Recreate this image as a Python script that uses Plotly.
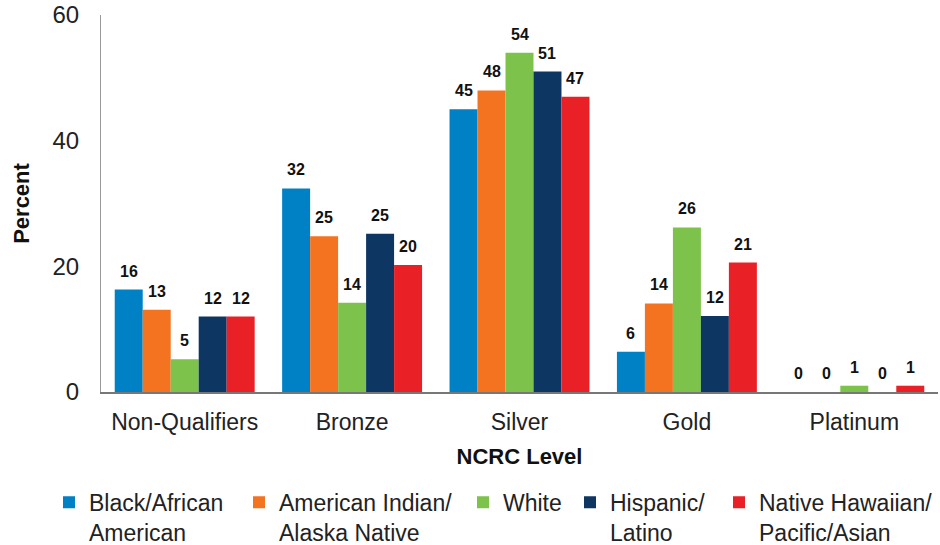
import plotly.graph_objects as go

categories = ["Non-Qualifiers", "Bronze", "Silver", "Gold", "Platinum"]
series_names = ["Black/African<br>American", "American Indian/<br>Alaska Native", "White",
                "Hispanic/<br>Latino", "Native Hawaiian/<br>Pacific/Asian"]
black = [16.3, 32.4, 45.0, 6.4, 0.0]
american_indian = [13.1, 24.8, 48.0, 14.1, 0.0]
white = [5.2, 14.2, 54.0, 26.2, 1.0]
hispanic = [12.0, 25.2, 51.0, 12.1, 0.0]
hawaiian = [12.0, 20.2, 47.0, 20.6, 1.0]
black_lbl = [16, 32, 45, 6, 0]
american_indian_lbl = [13, 25, 48, 14, 0]
white_lbl = [5, 14, 54, 26, 1]
hispanic_lbl = [12, 25, 51, 12, 0]
hawaiian_lbl = [12, 20, 47, 21, 1]
colors = ["#0081C6", "#F47321", "#7DC24B", "#0E3663", "#E92127"]

values = [black, american_indian, white, hispanic, hawaiian]
labels = [black_lbl, american_indian_lbl, white_lbl, hispanic_lbl, hawaiian_lbl]

BARGAP = 0.164
n = len(values)
bw = (1 - BARGAP) / n

legend_ids = ["legend", "legend2", "legend3", "legend4", "legend5"]
legend_px = [70, 260, 484, 591, 740]

fig = go.Figure()
annotations = []
for j, (name, vals, lab, col) in enumerate(zip(series_names, values, labels, colors)):
    fig.add_trace(go.Bar(
        x=categories, y=vals, name=name, marker_color=col,
        marker_line_width=0, legend=legend_ids[j], hoverinfo="skip",
    ))
    for i, (v, l) in enumerate(zip(vals, lab)):
        annotations.append(dict(
            x=i + (j - (n - 1) / 2) * bw, y=v, xref="x", yref="y",
            text="<b>%d</b>" % l, showarrow=False, yanchor="bottom", yshift=8,
            font=dict(family="Liberation Sans", size=16, color="#111111"),
        ))

layout = dict(
    width=940, height=545,
    margin=dict(l=101, r=2, t=15, b=153, autoexpand=False),
    barmode="group", bargap=BARGAP, bargroupgap=0,
    plot_bgcolor="white", paper_bgcolor="white",
    font=dict(family="Liberation Sans", color="#222222"),
    showlegend=True,
    annotations=annotations,
    xaxis=dict(showline=True, linecolor="#777777", linewidth=2, showgrid=False,
               tickfont=dict(size=23, color="#222222"), ticks="", ticklabelstandoff=8,
               automargin=False,
               title=dict(text="<b>NCRC Level</b>", font=dict(size=22, color="#111111"), standoff=15)),
    yaxis=dict(range=[0, 60], dtick=20, showline=True, linecolor="#999999", linewidth=1,
               showgrid=False, zeroline=False, ticks="", ticklabelstandoff=16,
               automargin=False,
               tickfont=dict(size=24, color="#222222"),
               title=dict(text="<b>Percent</b>", font=dict(size=22, color="#111111"), standoff=16)),
)
for lid, px in zip(legend_ids, legend_px):
    layout[lid] = dict(xref="container", yref="container", x=(px - 21) / 940, xanchor="left",
                       y=0.118, yanchor="top", valign="top", orientation="h",
                       font=dict(family="Liberation Sans", size=23, color="#222222"),
                       bgcolor="rgba(0,0,0,0)", itemclick=False, itemdoubleclick=False)
fig.update_layout(**layout)

fig.write_html("out.html", config={"displayModeBar": False},
               post_script="document.body.style.margin='0';document.body.style.overflow='hidden';")
